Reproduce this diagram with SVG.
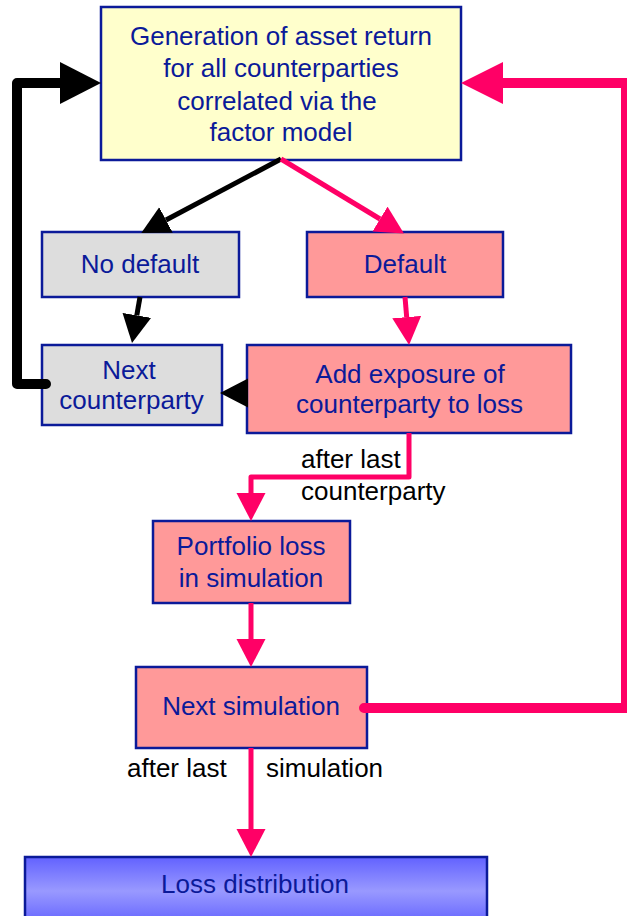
<svg xmlns="http://www.w3.org/2000/svg" width="627" height="916" viewBox="0 0 627 916">
<style>
.box{stroke:#0b1a99;stroke-width:2.5}
.t{font-family:"Liberation Sans",Arial,sans-serif;font-size:26px;fill:#0b1a99;text-anchor:middle}
.lbl{font-family:"Liberation Sans",Arial,sans-serif;font-size:26px;fill:#000}
.blk{fill:none;stroke:#000;stroke-width:5;stroke-linejoin:round}
.pnk{fill:none;stroke:#ff0066;stroke-width:5;stroke-linejoin:round}
.thick{stroke-width:10;stroke-linecap:round}
</style>
<defs>
<marker id="ab" markerUnits="userSpaceOnUse" markerWidth="30" markerHeight="30" refX="0" refY="14.5" orient="auto" viewBox="0 0 30 30"><path d="M0,0 L28,14.5 L0,29 z" fill="#000"/></marker>
<marker id="ap" markerUnits="userSpaceOnUse" markerWidth="30" markerHeight="30" refX="0" refY="14.5" orient="auto" viewBox="0 0 30 30"><path d="M0,0 L28,14.5 L0,29 z" fill="#ff0066"/></marker>
<marker id="abL" markerUnits="userSpaceOnUse" markerWidth="42" markerHeight="43" refX="0" refY="21" orient="auto" viewBox="0 0 42 43"><path d="M0,0 L41,21 L0,42 z" fill="#000"/></marker>
<marker id="apL" markerUnits="userSpaceOnUse" markerWidth="42" markerHeight="43" refX="0" refY="21" orient="auto" viewBox="0 0 42 43"><path d="M0,0 L42,21 L0,42 z" fill="#ff0066"/></marker>
<linearGradient id="gLoss" x1="0" y1="0" x2="0" y2="1">
<stop offset="0" stop-color="#6262ff"/>
<stop offset="0.5" stop-color="#9999ff"/>
<stop offset="1" stop-color="#6262ff"/>
</linearGradient>
</defs>

<g id="node-generation">
<rect class="box" x="101" y="7" width="360" height="153" fill="#ffffcc"/>
<text class="t" x="281" y="45">Generation of asset return</text>
<text class="t" x="281" y="77">for all counterparties</text>
<text class="t" x="277" y="110">correlated via the</text>
<text class="t" x="281" y="141">factor model</text>
</g>
<g id="node-nodefault">
<rect class="box" x="42" y="232" width="197" height="65" fill="#dddddd"/>
<text class="t" x="140" y="273">No default</text>
</g>
<g id="node-default">
<rect class="box" x="307" y="232" width="196" height="65" fill="#ff9999"/>
<text class="t" x="405" y="273">Default</text>
</g>
<g id="node-nextcp">
<rect class="box" x="42" y="345" width="180" height="80" fill="#dddddd"/>
<text class="t" x="129" y="379">Next</text>
<text class="t" x="131.5" y="409">counterparty</text>
</g>
<g id="node-addexposure">
<rect class="box" x="247" y="345" width="324" height="88" fill="#ff9999"/>
<text class="t" x="410" y="383">Add exposure of</text>
<text class="t" x="409.5" y="413">counterparty to loss</text>
</g>
<g id="node-portfolio">
<rect class="box" x="153" y="521" width="197" height="82" fill="#ff9999"/>
<text class="t" x="251" y="555">Portfolio loss</text>
<text class="t" x="251" y="587">in simulation</text>
</g>
<g id="node-nextsim">
<rect class="box" x="136" y="667" width="231" height="81" fill="#ff9999"/>
<text class="t" x="251" y="715">Next simulation</text>
</g>
<g id="node-lossdist">
<rect class="box" x="25" y="857" width="462" height="68" fill="url(#gLoss)"/>
<text class="t" x="255" y="893">Loss distribution</text>
</g>

<g id="connectors">
<path class="blk" d="M281,159 L166,220" marker-end="url(#ab)"/>
<path class="pnk" d="M281,159 L380,219" marker-end="url(#ap)"/>
<path class="blk" d="M140,297 L136.8,315.4" marker-end="url(#ab)"/>
<path class="pnk" d="M405,297 L406.7,317.1" marker-end="url(#ap)"/>
<path d="M249,393 L248,393" fill="none" stroke="none" marker-end="url(#ab)"/>
<path class="blk thick" d="M46,384 H17 V83 H60" marker-end="url(#abL)"/>
<path class="pnk thick" d="M364,708 H626 V83 H503" marker-end="url(#apL)"/>
<path class="pnk" d="M409,433 V477 H251 V493" marker-end="url(#ap)"/>
<path class="pnk" d="M251,603 V639" marker-end="url(#ap)"/>
<path class="pnk" d="M251,748 V829" marker-end="url(#ap)"/>
<text class="lbl" x="301" y="468">after last</text>
<text class="lbl" x="301" y="500">counterparty</text>
<text class="lbl" x="127" y="777">after last</text>
<text class="lbl" x="266" y="777">simulation</text>
</g>
</svg>
